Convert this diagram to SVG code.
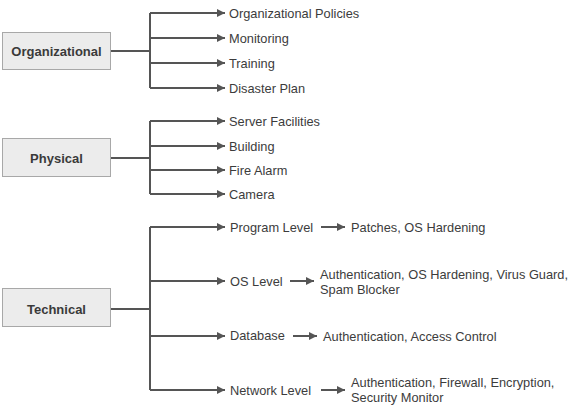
<svg xmlns="http://www.w3.org/2000/svg" width="577" height="408" viewBox="0 0 577 408">
<style>
.box{fill:#ececec;stroke:#a8a8a8;stroke-width:1}
.bl{font-family:"Liberation Sans",Arial,sans-serif;font-size:13px;font-weight:bold;fill:#3a3a3a;text-anchor:middle}
.t{font-family:"Liberation Sans",Arial,sans-serif;font-size:12.8px;fill:#3c3c3c}
.c{fill:none;stroke:#555;stroke-width:2}
</style>
<defs>
<marker id="ah" markerWidth="10" markerHeight="10" refX="9" refY="5" orient="auto" markerUnits="userSpaceOnUse">
<path d="M1,1 L9,5 L1,9 Z" fill="#555"/>
</marker>
</defs>
<rect width="577" height="408" fill="#fff"/>
<g id="connectors">
<path class="c" d="M111,51 H150"/>
<path class="c" d="M150,13 V88"/>
<path class="c" d="M150,13 H225" marker-end="url(#ah)"/>
<path class="c" d="M150,38 H225" marker-end="url(#ah)"/>
<path class="c" d="M150,63 H225" marker-end="url(#ah)"/>
<path class="c" d="M150,88 H225" marker-end="url(#ah)"/>
<path class="c" d="M111,158 H150"/>
<path class="c" d="M150,121 V194"/>
<path class="c" d="M150,121 H225" marker-end="url(#ah)"/>
<path class="c" d="M150,146 H225" marker-end="url(#ah)"/>
<path class="c" d="M150,170 H225" marker-end="url(#ah)"/>
<path class="c" d="M150,194 H225" marker-end="url(#ah)"/>
<path class="c" d="M111,309 H150"/>
<path class="c" d="M150,227 V390"/>
<path class="c" d="M150,227 H225" marker-end="url(#ah)"/>
<path class="c" d="M150,281 H225" marker-end="url(#ah)"/>
<path class="c" d="M150,336 H225" marker-end="url(#ah)"/>
<path class="c" d="M150,390 H225" marker-end="url(#ah)"/>
<path class="c" d="M321,227 H345" marker-end="url(#ah)"/>
<path class="c" d="M290,281 H314" marker-end="url(#ah)"/>
<path class="c" d="M293,336 H317" marker-end="url(#ah)"/>
<path class="c" d="M321,390 H345" marker-end="url(#ah)"/>
</g>
<g id="organizational">
<rect class="box" x="2.5" y="32.5" width="108" height="37"/>
<text class="bl" x="56.5" y="56">Organizational</text>
</g>
<g id="physical">
<rect class="box" x="2.5" y="138.5" width="108" height="38"/>
<text class="bl" x="56.5" y="163">Physical</text>
</g>
<g id="technical">
<rect class="box" x="2.5" y="288.5" width="108" height="38"/>
<text class="bl" x="56.5" y="314">Technical</text>
</g>
<g id="org-policies"><text class="t" x="229" y="17.5">Organizational Policies</text></g>
<g id="monitoring"><text class="t" x="229" y="42.5">Monitoring</text></g>
<g id="training"><text class="t" x="229" y="67.5">Training</text></g>
<g id="disaster-plan"><text class="t" x="229" y="92.5">Disaster Plan</text></g>
<g id="server-facilities"><text class="t" x="229" y="125.5">Server Facilities</text></g>
<g id="building"><text class="t" x="229" y="150.5">Building</text></g>
<g id="fire-alarm"><text class="t" x="229" y="174.5">Fire Alarm</text></g>
<g id="camera"><text class="t" x="229" y="198.5">Camera</text></g>
<g id="program-level"><text class="t" x="230" y="231.5">Program Level</text></g>
<g id="os-level"><text class="t" x="230" y="285.5">OS Level</text></g>
<g id="database"><text class="t" x="230" y="340">Database</text></g>
<g id="network-level"><text class="t" x="230" y="394.5">Network Level</text></g>
<g id="patches"><text class="t" x="351" y="231.5">Patches, OS Hardening</text></g>
<g id="os-items"><text class="t" x="320" y="279">Authentication, OS Hardening, Virus Guard,</text><text class="t" x="320" y="294">Spam Blocker</text></g>
<g id="db-items"><text class="t" x="323" y="341">Authentication, Access Control</text></g>
<g id="net-items"><text class="t" x="351" y="387">Authentication, Firewall, Encryption,</text><text class="t" x="351" y="402">Security Monitor</text></g>
</svg>
